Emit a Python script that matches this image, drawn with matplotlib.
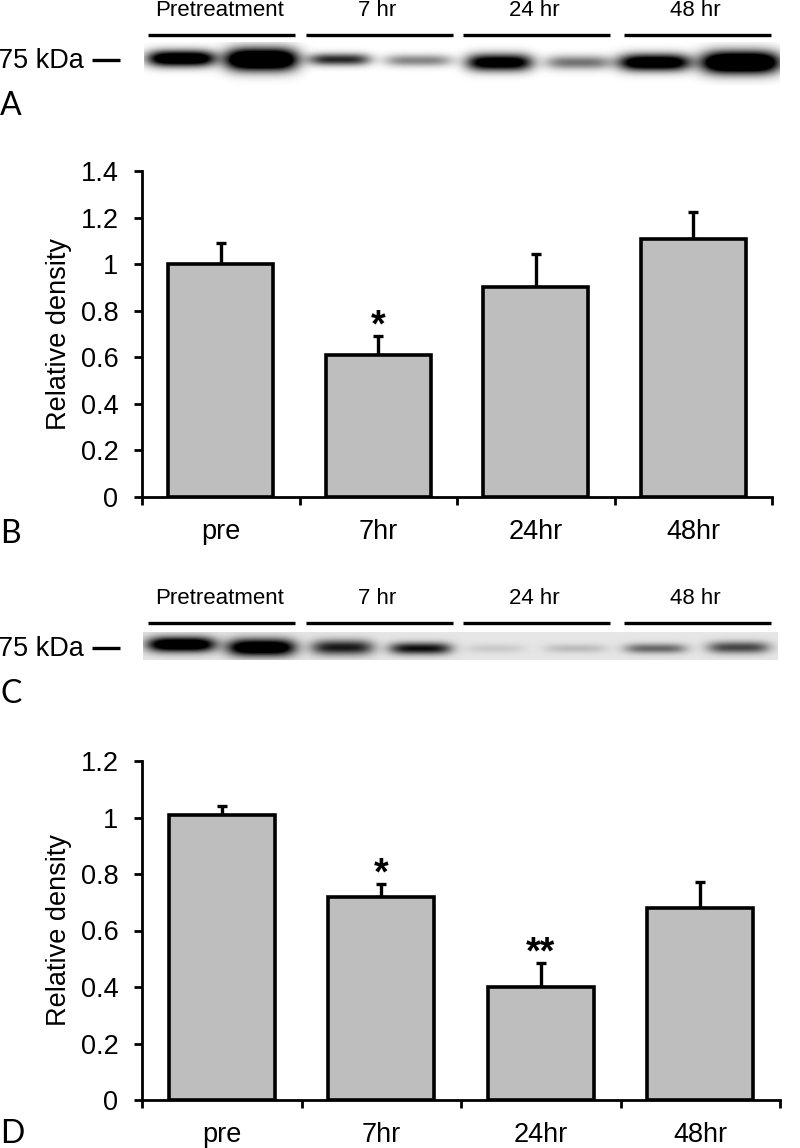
import numpy as np
import matplotlib
matplotlib.use("Agg")
import matplotlib.pyplot as plt

plt.rcParams["font.family"] = ["Liberation Sans", "DejaVu Sans"]

W, H = 800, 1148

categories = ["pre", "7hr", "24hr", "48hr"]
lane_labels = ["Pretreatment", "7 hr", "24 hr", "48 hr"]

values_b = [1.0, 0.61, 0.90, 1.11]
errors_b = [0.09, 0.08, 0.145, 0.115]
stars_b = ["", "*", "", ""]
yticks_b = [0, 0.2, 0.4, 0.6, 0.8, 1, 1.2, 1.4]

values_d = [1.01, 0.72, 0.40, 0.68]
errors_d = [0.03, 0.045, 0.085, 0.09]
stars_d = ["", "*", "**", ""]
yticks_d = [0, 0.2, 0.4, 0.6, 0.8, 1, 1.2]

# blot bands: x centre, y centre, half width, half height, darkness
bands_a = [
    (181, 58, 34, 8, 1.4), (261, 59, 36, 11, 1.7),
    (339, 59, 31, 6, 0.85), (418, 60, 34, 6, 0.48),
    (499, 62, 33, 8.5, 1.25), (578, 62, 33, 7, 0.55),
    (654, 62, 36, 8.5, 1.35), (740, 62, 39, 11, 1.7),
]
bands_c = [
    (181, 644, 34, 7.5, 1.4), (261, 647, 34, 8.5, 1.4),
    (342, 647, 31, 7.5, 0.9), (420, 648, 31, 6, 0.95),
    (495, 648, 29, 4.5, 0.12), (575, 648, 31, 4.5, 0.18),
    (655, 648, 31, 5, 0.55), (738, 647, 31, 6, 0.7),
]
bar_spans = [(148, 295), (306, 453), (463, 610), (624, 771)]


def px_axes(left, top, right, bottom):
    return fig.add_axes([left / W, 1 - bottom / H, (right - left) / W, (bottom - top) / H])


def draw_blot(bands, x0, x1, y0, y1, bg):
    xx, yy = np.meshgrid(np.arange(x0, x1), np.arange(y0, y1))
    dark = np.zeros_like(xx, dtype=float)
    for cx, cy, hw, hh, d in bands:
        gx = np.exp(-(np.abs(xx - cx) / hw) ** 4)
        gy = np.exp(-((yy - cy) / hh) ** 2)
        dark += d * gx * gy
    img = (1 - bg) * (1 - np.clip(dark, 0, 1))
    ax_bg.imshow(img, extent=(x0, x1, y1, y0), cmap="gray", vmin=0, vmax=1,
                 aspect="auto", interpolation="bilinear", zorder=1)


def draw_header(y_text, y_line, y_marker):
    for (a, b), lab in zip(bar_spans, lane_labels):
        ax_bg.plot([a, b], [y_line, y_line], color="black", lw=2.4,
                   solid_capstyle="butt", zorder=3)
        ax_bg.text((a + b) / 2 - 2, y_text, lab, fontsize=16, ha="center", va="center")
    ax_bg.plot([92, 120], [y_marker, y_marker], color="black", lw=2.4, solid_capstyle="butt", zorder=3)
    ax_bg.text(-2, y_marker + 1, "75 kDa", fontsize=19.5, ha="left", va="center")


def draw_bars(ax, values, errors, stars, yticks, ymax):
    x = np.arange(len(values))
    ax.bar(x, values, width=0.667, color="#bebebe", edgecolor="black", linewidth=2.6, zorder=2)
    ax.errorbar(x, values, yerr=[np.zeros(len(errors)), errors], fmt="none", ecolor="black",
                elinewidth=2.4, capsize=3.5, capthick=2.4, zorder=1)
    for xi, v, e, s in zip(x, values, errors, stars):
        if s:
            ax.annotate(s, (xi, v + e), xytext=(0, 7), textcoords="offset points",
                        fontsize=27, ha="center", va="center", fontweight="bold")
    ax.set_xlim(-0.5, 3.5)
    ax.set_ylim(0, ymax)
    ax.set_yticks(yticks)
    ax.set_yticklabels([f"{t:g}" for t in yticks], fontsize=19.5)
    ax.set_xticks(np.arange(0.5, 3, 1).tolist() + [-0.5, 3.5])
    ax.set_xticklabels([])
    for xi, lab in zip(x, categories):
        ax.annotate(lab, (xi, 0), xycoords=("data", "axes fraction"), xytext=(0, -25),
                    textcoords="offset points", ha="center", va="center", fontsize=19.5)
    ax.set_ylabel("Relative density", fontsize=19.5)
    ax.yaxis.set_label_coords((72 - 142) / (ax.get_position().width * W), 0.5)
    ax.tick_params(axis="y", length=6, width=2, direction="out", pad=11)
    ax.tick_params(axis="x", length=6, width=2, direction="out")
    for side in ["top", "right"]:
        ax.spines[side].set_visible(False)
    for side in ["left", "bottom"]:
        ax.spines[side].set_linewidth(2)


fig = plt.figure(figsize=(W / 100, H / 100), dpi=100)

ax_bg = fig.add_axes([0, 0, 1, 1])
ax_bg.axis("off")

draw_blot(bands_a, 144, 780, 42, 85, 0.0)
draw_blot(bands_c, 143, 778, 632, 660, 0.1)
ax_bg.set_xlim(0, W)
ax_bg.set_ylim(H, 0)

draw_header(10.5, 35, 60)
draw_header(598.5, 623, 648)
for letter, y in zip("ABCD", [106, 534, 694, 1134]):
    ax_bg.text(0, y, letter, fontsize=23, family="Lato", ha="left", va="center")

ax_b = px_axes(142, 171, 772, 497)
ax_b.patch.set_alpha(0)
draw_bars(ax_b, values_b, errors_b, stars_b, yticks_b, 1.4)

ax_d = px_axes(142, 761, 780, 1100)
ax_d.patch.set_alpha(0)
draw_bars(ax_d, values_d, errors_d, stars_d, yticks_d, 1.2)

fig.savefig("out.png", dpi=100)
